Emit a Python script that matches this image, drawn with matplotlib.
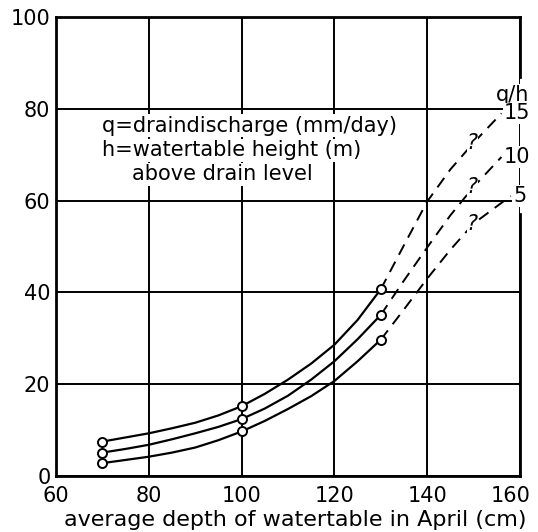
import matplotlib
matplotlib.use("Agg")
import matplotlib.pyplot as plt
from matplotlib.transforms import ScaledTranslation

# ---- data ----
x_meas = [70, 100, 130]
meas_15 = [7.5, 15.2, 40.7]
meas_10 = [5.1, 12.4, 35.1]
meas_5 = [2.8, 9.7, 29.7]

solid_x = [70, 75, 80, 85, 90, 95, 100, 105, 110, 115, 120, 125, 130]
solid_15 = [7.5, 8.4, 9.3, 10.4, 11.6, 13.2, 15.2, 17.9, 21.0, 24.5, 28.6, 34.0, 40.7]
solid_10 = [5.1, 5.9, 6.8, 8.0, 9.3, 10.7, 12.4, 14.7, 17.5, 21.0, 25.0, 29.8, 35.1]
solid_5 = [2.8, 3.5, 4.2, 5.1, 6.2, 7.8, 9.7, 12.0, 14.6, 17.4, 20.7, 25.0, 29.7]

dash_x_15 = [130, 135, 140, 145, 150, 156]
dash_15 = [40.7, 50.3, 59.8, 66.8, 72.6, 79.0]
dash_x_10 = [130, 135, 140, 145, 150, 156]
dash_10 = [35.1, 42.6, 49.8, 56.8, 63.0, 69.5]
dash_x_5 = [130, 135, 140, 145, 150, 158]
dash_5 = [29.7, 36.3, 43.0, 49.3, 55.0, 61.0]

curve_labels = ["15", "10", "5"]
x_ticks = [60, 80, 100, 120, 140, 160]
y_ticks = [0, 20, 40, 60, 80, 100]

plt.rcParams['font.family'] = ['DejaVu Sans']

fig = plt.figure(figsize=(5.38, 5.32), dpi=100)
ax = fig.add_axes([56/538, 1-476/532, 464/538, 459/532])
ax.set_xlim(60, 160)
ax.set_ylim(0, 100)
ax.set_xticks(x_ticks)
ax.set_yticks(y_ticks)
ax.tick_params(length=0, labelsize=15)
ax.tick_params(axis='y', pad=4)
ax.tick_params(axis='x', pad=7)
ax.grid(True, color='black', linewidth=1.4, zorder=0)
ax.set_axisbelow(True)
for s in ['left', 'bottom', 'top']:
    ax.spines[s].set_linewidth(2.0)
ax.spines['right'].set_visible(False)
ax.axvline(160, ymin=0, ymax=0.57, color='black', lw=2.0, clip_on=False)
ax.axvline(160, ymin=0.87, ymax=1.0, color='black', lw=2.0, clip_on=False)

# last x tick label sits a little left, as in the reference
last = ax.get_xticklabels()[-1]
last.set_transform(last.get_transform() + ScaledTranslation(-0.09, 0, fig.dpi_scale_trans))

for sx, sy, dx, dy, mx in [
    (solid_x, solid_15, dash_x_15, dash_15, meas_15),
    (solid_x, solid_10, dash_x_10, dash_10, meas_10),
    (solid_x, solid_5, dash_x_5, dash_5, meas_5),
]:
    ax.plot(sx, sy, color='black', lw=1.6, zorder=3, solid_joinstyle='round')
    ax.plot(dx, dy, color='black', lw=1.4, linestyle=(0, (6, 4)), zorder=3)
    ax.plot(x_meas, mx, linestyle='none', marker='o', ms=6.5,
            mfc='white', mec='black', mew=1.4, zorder=4)

# question marks on the dashed parts
for dx, dy in [(dash_x_15, dash_15), (dash_x_10, dash_10), (dash_x_5, dash_5)]:
    ax.text(dx[4] - 0.3, dy[4], "?", fontsize=15, style='italic', ha='center',
            va='center', zorder=5,
            bbox=dict(facecolor='white', edgecolor='none', pad=0.0))

# curve labels at right
lab_box = dict(facecolor='white', edgecolor='none', pad=0.5)
ax.text(158.5, 83.0, "q/h", fontsize=15, ha='center', va='center', bbox=lab_box, zorder=5)
for lab, dx, dy in zip(curve_labels, [dash_x_15, dash_x_10, dash_x_5], [dash_15, dash_10, dash_5]):
    ax.text(dx[-1] + 0.5, dy[-1], lab, fontsize=15, ha='left', va='center',
            bbox=lab_box, zorder=5)

# explanation text
txt_box = dict(facecolor='white', edgecolor='none', pad=1.0)
ax.text(69.9, 76.3, "q=draindischarge (mm/day)", fontsize=15, ha='left', va='center', bbox=txt_box, zorder=5)
ax.text(69.9, 71.0, "h=watertable height (m)", fontsize=15, ha='left', va='center', bbox=txt_box, zorder=5)
ax.text(76.4, 65.7, "above drain level", fontsize=15, ha='left', va='center', bbox=txt_box, zorder=5)

ax.set_xlabel("average depth of watertable in April (cm)", fontsize=16)
ax.xaxis.set_label_coords(0.515, -0.074)

fig.savefig("out.png", dpi=100)
